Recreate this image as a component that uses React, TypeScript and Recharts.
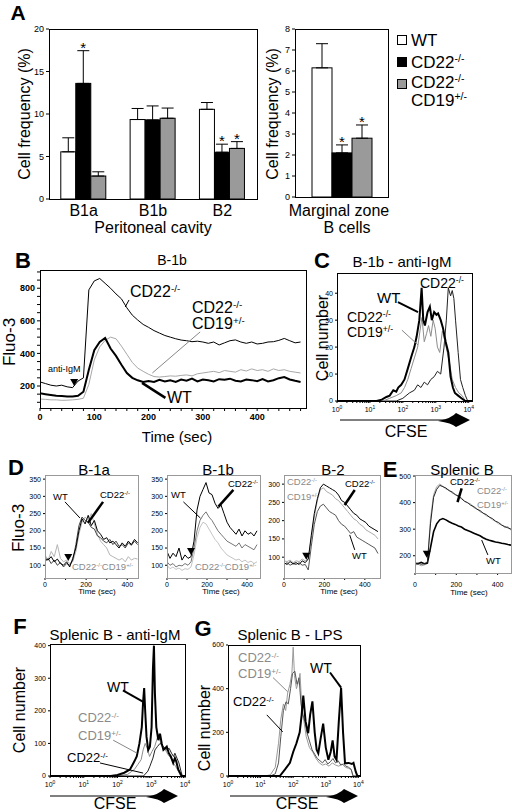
import React from 'react';
import { BarChart, Bar, XAxis, YAxis, ErrorBar, LineChart, Line, ReferenceLine, ReferenceDot } from 'recharts';

const FONT = '"Liberation Sans", Arial, Helvetica, sans-serif';
const GREY_BAR = '#9a9a9a';
const GREY_LINE = '#a8a8a8';
const GREY_TXT = '#8a8a8a';

// ---------- Panel A ----------
const periCats = ['B1a', 'B1b', 'B2'];
const wtFreq = [5.55, 9.35, 10.55];
const wtErr = [1.65, 1.3, 0.8];
const koFreq = [13.6, 9.3, 5.5];
const koErr = [3.85, 1.65, 0.95];
const dkoFreq = [2.7, 9.5, 5.95];
const dkoErr = [0.5, 1.2, 0.8];
const koSig = [true, false, true];
const dkoSig = [false, false, true];

const mzCats = ['MZ'];
const mzWt = [6.15];
const mzWtErr = [1.15];
const mzKo = [2.1];
const mzKoErr = [0.38];
const mzDko = [2.8];
const mzDkoErr = [0.63];
const mzKoSig = [true];
const mzDkoSig = [true];

const periTicks = [0, 5, 10, 15, 20];
const mzTicks = [0, 1, 2, 3, 4, 5, 6, 7, 8];

// ---------- Panel B ----------
const bTime = [0, 10, 20, 30, 40, 50, 60, 70, 80, 90, 100, 110, 120, 130, 140, 150, 160, 170, 180, 190, 200, 210, 220, 230, 240, 250, 260, 270, 280, 290, 300, 310, 320, 330, 340, 350, 360, 370, 380, 390, 400, 410, 420, 430, 440, 450, 460, 470, 480];
const bKo = [225, 215, 205, 200, 205, 195, 190, 230, 250, 790, 845, 860, 830, 800, 765, 735, 680, 635, 605, 578, 560, 540, 525, 510, 500, 490, 482, 478, 472, 475, 470, 462, 470, 452, 465, 478, 483, 470, 462, 470, 458, 462, 470, 472, 480, 492, 478, 465, 470];
const bWt = [155, 150, 145, 140, 138, 135, 135, 140, 165, 300, 420, 470, 495, 430, 385, 330, 280, 250, 235, 225, 230, 225, 238, 228, 235, 225, 240, 232, 245, 228, 240, 235, 228, 242, 238, 245, 232, 228, 240, 236, 230, 242, 228, 235, 248, 255, 240, 232, 225];
const bDko = [120, 118, 115, 115, 112, 113, 115, 118, 125, 210, 360, 440, 480, 500, 490, 445, 395, 345, 310, 290, 272, 258, 255, 258, 262, 260, 265, 268, 262, 275, 280, 285, 290, 282, 295, 290, 285, 300, 292, 305, 295, 300, 290, 305, 295, 300, 290, 285, 280];
const bXTicks = [0, 20, 40, 60, 80, 100, 120, 140, 160, 180, 200, 220, 240, 260, 280, 300, 320, 340, 360, 380, 400, 420, 440, 460, 480];
const bXMajor = [0, 100, 200, 300, 400];
const bYTicks = [100, 150, 200, 250, 300, 350, 400, 450, 500, 550, 600, 650, 700, 750, 800, 850, 900];
const bYMajor = [200, 400, 600, 800];
const bStim = [63, 200];

// ---------- Panel C ----------
const cWtX = [0, 1.2, 1.36, 1.5, 1.6, 1.71, 1.8, 1.86, 1.95, 2.05, 2.15, 2.27, 2.35, 2.42, 2.5, 2.57, 2.62, 2.67, 2.75, 2.82, 2.88, 2.95, 3.02, 3.07, 3.15, 3.22, 3.3, 3.38, 3.45, 3.52, 3.58, 3.68, 3.78, 3.9, 4.1];
const cWtY = [0, 0, 0.5, 1.5, 2, 4, 3.5, 5, 6, 8, 12, 17, 20, 24, 30, 42, 30, 28, 33, 35, 30, 33, 32, 32.5, 30, 27, 22, 18, 9, 5, 3, 2, 1, 0, 0];
const cDkoX = [0, 1.4, 1.6, 1.8, 1.95, 2.05, 2.15, 2.25, 2.35, 2.45, 2.52, 2.58, 2.65, 2.72, 2.78, 2.85, 2.92, 2.98, 3.05, 3.12, 3.2, 3.28, 3.35, 3.42, 3.5, 3.6, 3.7, 3.8, 3.9, 4.1];
const cDkoY = [0, 0, 1, 2, 3, 5, 8, 12, 16, 20, 26, 31, 22, 25, 28, 24, 30, 27, 20, 18, 26, 22, 18, 14, 8, 5, 3, 2, 0, 0];
const cKoX = [0, 1.8, 2.0, 2.2, 2.35, 2.45, 2.55, 2.65, 2.75, 2.85, 2.95, 3.05, 3.15, 3.25, 3.32, 3.38, 3.45, 3.5, 3.55, 3.6, 3.68, 3.75, 3.82, 3.9, 3.97, 4.1];
const cKoY = [0, 0, 1, 3, 4, 6, 5, 7, 6, 8, 9, 11, 10, 20, 30, 42, 39, 41, 38, 30, 18, 8, 5, 2, 0, 0];
const cYTicks = [0, 10, 20, 30, 40];

// ---------- Panels D / E ----------
const dTime = [0, 15, 30, 45, 60, 75, 90, 105, 120, 135, 150, 165, 180, 195, 210, 225, 240, 255, 270, 285, 300, 315, 330, 345, 360, 375, 390, 405, 420, 435, 450];
const d1Ko = [120, 115, 125, 110, 118, 105, 100, 110, 95, 120, 150, 200, 235, 220, 245, 215, 230, 200, 190, 175, 180, 165, 170, 160, 150, 165, 155, 170, 160, 175, 165];
const d1Wt = [110, 120, 105, 115, 100, 108, 95, 105, 100, 115, 160, 215, 240, 230, 225, 210, 205, 185, 180, 170, 165, 175, 160, 170, 155, 160, 150, 165, 158, 170, 160];
const d1Dko = [130, 115, 140, 125, 160, 120, 110, 115, 105, 110, 140, 190, 225, 240, 230, 250, 220, 190, 170, 160, 150, 130, 125, 120, 115, 120, 110, 125, 115, 120, 118];
const d2Ko = [140, 120, 135, 125, 150, 115, 130, 120, 125, 170, 260, 300, 320, 340, 310, 305, 280, 265, 275, 250, 225, 210, 200, 190, 205, 185, 200, 190, 195, 185, 200];
const d2Wt = [110, 100, 105, 95, 100, 98, 105, 100, 110, 150, 200, 230, 245, 255, 240, 230, 215, 200, 190, 180, 170, 165, 160, 155, 165, 150, 160, 155, 150, 145, 160];
const d2Dko = [100, 90, 95, 88, 92, 85, 90, 88, 95, 130, 180, 210, 225, 220, 205, 190, 175, 165, 150, 140, 130, 125, 120, 115, 118, 110, 115, 108, 112, 105, 110];
const d3Time = [0, 15, 30, 45, 60, 75, 90, 105, 120, 135, 150, 165, 180, 195, 210, 225, 240, 255, 270, 285, 300, 315, 330, 345, 360, 375, 390, 405, 420, 435, 450, 465];
const d3Ko = [85, 80, 88, 82, 85, 80, 90, 85, 95, 160, 220, 260, 290, 300, 295, 290, 285, 280, 270, 255, 250, 240, 230, 220, 215, 205, 200, 195, 185, 180, 175, 170];
const d3Wt = [80, 85, 78, 82, 80, 85, 78, 80, 65, 130, 190, 225, 240, 245, 235, 225, 220, 215, 200, 190, 185, 175, 165, 170, 155, 150, 145, 140, 135, 130, 125, 110];
const d3Dko = [90, 88, 92, 85, 90, 88, 95, 90, 95, 150, 210, 255, 285, 290, 280, 275, 270, 260, 255, 245, 235, 225, 215, 205, 200, 190, 185, 175, 170, 165, 160, 150];
const eKo = [170, 172, 168, 170, 175, 320, 420, 450, 465, 460, 455, 445, 440, 430, 425, 415, 405, 400, 390, 385, 375, 370, 360, 355, 345, 340, 330, 325, 315, 310, 305, 300];
const eDko = [165, 168, 162, 165, 170, 340, 430, 460, 470, 462, 450, 448, 435, 432, 420, 418, 405, 398, 395, 380, 378, 365, 362, 350, 348, 335, 330, 320, 318, 305, 310, 295];
const eWt = [172, 170, 175, 170, 172, 230, 290, 320, 335, 340, 335, 328, 322, 318, 312, 308, 300, 295, 290, 285, 280, 275, 268, 262, 258, 255, 252, 250, 247, 245, 242, 240];
const dXTicks = [0, 100, 200, 300, 400];
const dXMajor = [0, 200, 400];
const d12YTicks = [100, 150, 200, 250, 300, 350];
const d3YTicks = [100, 150, 200, 250, 300];
const eYTicks = [200, 300, 400, 500];

// ---------- Panel F ----------
const fWtX = [0, 1.8, 2.0, 2.2, 2.37, 2.5, 2.57, 2.65, 2.72, 2.76, 2.79, 2.82, 2.86, 2.91, 2.96, 3.01, 3.05, 3.08, 3.11, 3.15, 3.21, 3.26, 3.31, 3.36, 3.41, 3.46, 3.52, 3.58, 3.65, 3.7, 3.74, 3.8, 3.86, 3.9, 4.0];
const fWtY = [0, 0, 3, 10, 20, 45, 60, 100, 150, 230, 270, 200, 120, 80, 90, 150, 330, 400, 250, 150, 110, 130, 100, 80, 85, 90, 70, 60, 40, 55, 45, 20, 8, 0, 0];
const fDkoX = [0, 2.0, 2.3, 2.5, 2.6, 2.7, 2.76, 2.82, 2.88, 2.95, 3.02, 3.1, 3.16, 3.22, 3.28, 3.35, 3.42, 3.5, 3.58, 3.65, 3.72, 3.8, 3.87, 4.0];
const fDkoY = [0, 0, 5, 20, 35, 50, 80, 100, 85, 60, 75, 90, 110, 130, 100, 85, 80, 65, 55, 40, 30, 15, 0, 0];
const fKoX = [0, 2.5, 2.77, 2.9, 2.96, 3.05, 3.11, 3.18, 3.26, 3.32, 3.4, 3.46, 3.53, 3.6, 3.66, 3.7, 3.76, 3.82, 3.88, 3.92, 4.0];
const fKoY = [0, 0, 0, 15, 30, 55, 80, 90, 100, 95, 85, 80, 85, 70, 60, 70, 55, 40, 15, 0, 0];
const fYTicks = [0, 100, 200, 300, 400];

// ---------- Panel G ----------
const gWtX = [0, 1.5, 1.59, 1.75, 1.9, 2.0, 2.1, 2.2, 2.26, 2.31, 2.38, 2.46, 2.52, 2.59, 2.66, 2.72, 2.77, 2.84, 2.92, 3.0, 3.08, 3.15, 3.21, 3.27, 3.33, 3.4, 3.47, 3.53, 3.59, 3.7, 3.8, 3.85, 3.92, 3.97, 4.05];
const gWtY = [0, 0, 0, 30, 60, 110, 150, 200, 280, 368, 250, 196, 280, 342, 200, 120, 104, 170, 240, 130, 74, 110, 163, 90, 74, 250, 404, 200, 58, 60, 55, 60, 20, 0, 0];
const gDkoX = [0, 1.1, 1.3, 1.45, 1.55, 1.62, 1.7, 1.77, 1.83, 1.9, 1.96, 2.0, 2.04, 2.1, 2.16, 2.21, 2.27, 2.33, 2.4, 2.5, 2.6, 2.7, 2.8, 2.9, 3.0, 3.1, 3.2, 3.3, 3.4, 3.5, 3.6, 3.7, 3.78, 3.83, 3.9, 4.05];
const gDkoY = [0, 0, 5, 40, 150, 260, 330, 300, 380, 420, 470, 590, 460, 400, 430, 470, 300, 250, 180, 130, 110, 80, 60, 50, 55, 45, 60, 50, 45, 55, 40, 35, 30, 0, 0, 0];
const gKoX = [0, 1.3, 1.45, 1.55, 1.62, 1.7, 1.78, 1.85, 1.92, 1.98, 2.05, 2.12, 2.18, 2.24, 2.3, 2.36, 2.42, 2.5, 2.58, 2.66, 2.74, 2.82, 2.9, 2.98, 3.06, 3.14, 3.22, 3.3, 3.38, 3.46, 3.54, 3.62, 3.7, 3.78, 3.84, 4.05];
const gKoY = [0, 0, 10, 60, 180, 300, 340, 330, 400, 470, 480, 420, 450, 330, 280, 250, 200, 160, 120, 100, 80, 70, 60, 75, 55, 65, 80, 60, 70, 50, 55, 45, 40, 30, 0, 0];
const gYTicks = [0, 200, 400, 600];

const logMajor = [0, 1, 2, 3, 4];
const logTicks = [0, 1, 2, 3].flatMap((d) => [d, ...[2, 3, 4, 5, 6, 7, 8, 9].map((m) => d + Math.log10(m))]).concat([4]);

// ---------- tables built from arrays ----------
const periData = periCats.map((c, i) => ({
  cat: c,
  wt: wtFreq[i], wtE: [0, wtErr[i]], wtS: false,
  ko: koFreq[i], koE: [0, koErr[i]], koS: koSig[i],
  dko: dkoFreq[i], dkoE: [0, dkoErr[i]], dkoS: dkoSig[i],
}));
const mzData = mzCats.map((c, i) => ({
  cat: c,
  wt: mzWt[i], wtE: [0, mzWtErr[i]], wtS: false,
  ko: mzKo[i], koE: [0, mzKoErr[i]], koS: mzKoSig[i],
  dko: mzDko[i], dkoE: [0, mzDkoErr[i]], dkoS: mzDkoSig[i],
}));
const bData = bTime.map((t, i) => ({ t, ko: bKo[i], wt: bWt[i], dko: bDko[i] }));
const d1Data = dTime.map((t, i) => ({ t, ko: d1Ko[i], wt: d1Wt[i], dko: d1Dko[i] }));
const d2Data = dTime.map((t, i) => ({ t, ko: d2Ko[i], wt: d2Wt[i], dko: d2Dko[i] }));
const d3Data = d3Time.map((t, i) => ({ t, ko: d3Ko[i], wt: d3Wt[i], dko: d3Dko[i] }));
const eData = d3Time.map((t, i) => ({ t, ko: eKo[i], wt: eWt[i], dko: eDko[i] }));
const zipXY = (xs: number[], ys: number[]) => xs.map((x, i) => ({ x, y: ys[i] }));

// ---------- helpers ----------
function Txt({ x, y, s = 16, c = '#000', a = 'start', b = false, r = false, children }: any) {
  const tx = a === 'start' ? '0' : a === 'middle' ? '-50%' : '-100%';
  return (
    <div
      style={{
        position: 'absolute', left: x, top: y,
        transform: r ? 'translate(-50%,-50%) rotate(-90deg)' : `translate(${tx},-50%)`,
        fontSize: s, color: c, fontWeight: b ? 'bold' : 'normal', whiteSpace: 'nowrap',
        lineHeight: 1, fontFamily: FONT,
      }}
    >
      {children}
    </div>
  );
}
const Sup = ({ children }: any) => (
  <span style={{ fontSize: '0.62em', position: 'relative', top: '-0.55em' }}>{children}</span>
);
const KO = () => (<>CD22<Sup>-/-</Sup></>);
const HET = () => (<>CD19<Sup>+/-</Sup></>);

const Frame = ({ l, t, w, h, c = '#000' }: any) => (
  <div style={{ position: 'absolute', left: l, top: t, width: w, height: h, border: `1px solid ${c}`, boxSizing: 'border-box', pointerEvents: 'none' }} />
);

const near = (arr: number[], v: number) => arr.some((a) => Math.abs(a - v) < 1e-6);
const xTick = (majors: number[], fs: number, bold = false) => (p: any) => {
  const v = p.payload.value;
  if (!near(majors, v)) return <g />;
  return (
    <text x={p.x} y={p.y} dy={fs * 0.75} textAnchor="middle" fontSize={fs} fontFamily={FONT} fontWeight={bold ? 'bold' : 'normal'} fill="#000">{v}</text>
  );
};
const yTick = (majors: number[], fs: number, bold = false) => (p: any) => {
  const v = p.payload.value;
  if (!near(majors, v)) return <g />;
  return (
    <text x={p.x} y={p.y} dy={fs * 0.35} textAnchor="end" fontSize={fs} fontFamily={FONT} fontWeight={bold ? 'bold' : 'normal'} fill="#000">{v}</text>
  );
};
const logTick = (fs: number) => (p: any) => {
  const v = p.payload.value;
  if (!near(logMajor, v)) return <g />;
  return (
    <text x={p.x} y={p.y} dy={fs * 0.85} textAnchor="middle" fontSize={fs} fontFamily={FONT} fill="#000">
      10<tspan dy={-fs * 0.45} fontSize={fs * 0.7}>{Math.round(v)}</tspan>
    </text>
  );
};

const barShape = (key: string, errKey: string, sigKey: string) => (p: any) => {
  const { x, y, width, height, fill, payload } = p;
  const val = payload[key];
  const err = payload[errKey][1];
  const top = y - (err * height) / val;
  return (
    <g>
      <rect x={x} y={y} width={width} height={height} fill={fill} stroke="#000" strokeWidth={1} />
      {payload[sigKey] ? (
        <text x={x + width / 2} y={top + 2} textAnchor="middle" fontSize={15} fontFamily={FONT} fill="#000">*</text>
      ) : null}
    </g>
  );
};

const tri = (p: any) => (
  <path d={`M${p.cx - 4},${p.cy - 7} L${p.cx + 4},${p.cy - 7} L${p.cx},${p.cy} Z`} fill="#000" />
);

const seg = (x1: number, y1: number, x2: number, y2: number, stroke: string, w: number, key: string) => (
  <ReferenceLine key={key} segment={[{ x: x1, y: y1 }, { x: x2, y: y2 }]} stroke={stroke} strokeWidth={w} ifOverflow="visible" />
);

// ---------- panels ----------
function PanelA() {
  return (
    <>
      <div style={{ position: 'absolute', left: 0, top: 0 }}>
        <BarChart width={275} height={230} data={periData} margin={{ top: 29, right: 18, bottom: 0, left: 29 }} barCategoryGap="17%" barGap={0}>
          <XAxis dataKey="cat" tickLine={false} axisLine={false} height={31} interval={0} tickMargin={0} tick={{ fontSize: 16, fill: '#000', fontFamily: FONT }} />
          <YAxis width={20} domain={[0, 20]} ticks={periTicks} interval={0} tickSize={3} axisLine={false} tickLine={{ stroke: '#000' }} tick={{ fontSize: 9, fill: '#000', fontFamily: FONT }} />
          <Bar dataKey="wt" fill="#fff" isAnimationActive={false} shape={barShape('wt', 'wtE', 'wtS')}>
            <ErrorBar dataKey="wtE" direction="y" width={6} stroke="#000" strokeWidth={1} />
          </Bar>
          <Bar dataKey="ko" fill="#000" isAnimationActive={false} shape={barShape('ko', 'koE', 'koS')}>
            <ErrorBar dataKey="koE" direction="y" width={6} stroke="#000" strokeWidth={1} />
          </Bar>
          <Bar dataKey="dko" fill={GREY_BAR} isAnimationActive={false} shape={barShape('dko', 'dkoE', 'dkoS')}>
            <ErrorBar dataKey="dkoE" direction="y" width={6} stroke="#000" strokeWidth={1} />
          </Bar>
        </BarChart>
      </div>
      <Frame l={49} t={29} w={209} h={171} />
      <div style={{ position: 'absolute', left: 262, top: 0 }}>
        <BarChart width={128} height={206} data={mzData} margin={{ top: 29, right: 2, bottom: 9, left: 15 }} barSize={20} barGap={0}>
          <XAxis dataKey="cat" hide />
          <YAxis width={18} domain={[0, 8]} ticks={mzTicks} interval={0} tickSize={3} axisLine={false} tickLine={{ stroke: '#000' }} tick={{ fontSize: 9, fill: '#000', fontFamily: FONT }} />
          <Bar dataKey="wt" fill="#fff" isAnimationActive={false} shape={barShape('wt', 'wtE', 'wtS')}>
            <ErrorBar dataKey="wtE" direction="y" width={6} stroke="#000" strokeWidth={1} />
          </Bar>
          <Bar dataKey="ko" fill="#000" isAnimationActive={false} shape={barShape('ko', 'koE', 'koS')}>
            <ErrorBar dataKey="koE" direction="y" width={6} stroke="#000" strokeWidth={1} />
          </Bar>
          <Bar dataKey="dko" fill={GREY_BAR} isAnimationActive={false} shape={barShape('dko', 'dkoE', 'dkoS')}>
            <ErrorBar dataKey="dkoE" direction="y" width={6} stroke="#000" strokeWidth={1} />
          </Bar>
        </BarChart>
      </div>
      <Frame l={295} t={29} w={94} h={169} />
      <Txt x={18} y={12} s={21} b a="middle">A</Txt>
      <Txt x={25} y={114} s={16} r>Cell frequency (%)</Txt>
      <Txt x={273} y={114} s={16} r>Cell frequency (%)</Txt>
      <Txt x={153} y={228} s={16} a="middle">Peritoneal cavity</Txt>
      <Txt x={339} y={211} s={16} a="middle">Marginal zone</Txt>
      <Txt x={347} y={228} s={16} a="middle">B cells</Txt>
      {/* legend */}
      <div style={{ position: 'absolute', left: 397, top: 35, width: 8, height: 8, border: '1px solid #000', background: '#fff' }} />
      <div style={{ position: 'absolute', left: 397, top: 57, width: 8, height: 8, border: '1px solid #000', background: '#000' }} />
      <div style={{ position: 'absolute', left: 397, top: 79, width: 8, height: 8, border: '1px solid #000', background: GREY_BAR }} />
      <Txt x={411} y={40} s={17}>WT</Txt>
      <Txt x={411} y={62} s={17}><KO /></Txt>
      <Txt x={411} y={82} s={17}><KO /></Txt>
      <Txt x={411} y={100} s={17}><HET /></Txt>
    </>
  );
}

function PanelB() {
  return (
    <>
      <div style={{ position: 'absolute', left: 0, top: 260 }}>
        <LineChart width={320} height={175} data={bData} margin={{ top: 10, right: 14, bottom: 7, left: 0 }}>
          <XAxis dataKey="t" type="number" domain={[0, 490]} ticks={bXTicks} interval={0} tick={xTick(bXMajor, 9, true)} tickSize={3} tickLine={{ stroke: '#000' }} axisLine={false} height={20} allowDataOverflow />
          <YAxis type="number" domain={[65, 912]} ticks={bYTicks} interval={0} tick={yTick(bYMajor, 9, true)} tickSize={3} tickLine={{ stroke: '#000' }} axisLine={false} width={40} allowDataOverflow />
          <Line dataKey="dko" stroke={GREY_LINE} strokeWidth={1} dot={false} isAnimationActive={false} />
          <Line dataKey="wt" stroke="#000" strokeWidth={2} dot={false} isAnimationActive={false} />
          <Line dataKey="ko" stroke="#000" strokeWidth={1} dot={false} isAnimationActive={false} />
          {seg(157, 685, 164, 728, '#000', 1, 'l1')}
          {seg(207, 280, 295, 532, '#888', 1, 'l2')}
          {seg(188, 219, 231, 127, '#000', 2.5, 'l3')}
          <ReferenceDot x={bStim[0]} y={bStim[1]} r={0} shape={tri} ifOverflow="visible" />
        </LineChart>
      </div>
      <Frame l={40} t={270} w={267} h={139} />
      <Txt x={23} y={261} s={22} b a="middle">B</Txt>
      <Txt x={172} y={260} s={14} a="middle">B-1b</Txt>
      <Txt x={9} y={342} s={17} r>Fluo-3</Txt>
      <Txt x={177} y={436} s={15} a="middle">Time (sec)</Txt>
      <Txt x={130} y={292} s={16}><KO /></Txt>
      <Txt x={192} y={308} s={16}><KO /></Txt>
      <Txt x={192} y={324} s={16}><HET /></Txt>
      <Txt x={167} y={398} s={16}>WT</Txt>
      <Txt x={48} y={369} s={9}>anti-IgM</Txt>
    </>
  );
}

function Hist({ left, top, width, height, margin, yw, xMax, yMax, yTicks, series, children }: any) {
  return (
    <div style={{ position: 'absolute', left, top }}>
      <LineChart width={width} height={height} margin={margin}>
        <XAxis dataKey="x" type="number" domain={[0, xMax]} ticks={logTicks} interval={0} tick={logTick(7)} tickSize={2} tickMargin={3} tickLine={{ stroke: '#000' }} axisLine={false} height={14} allowDataOverflow />
        <YAxis type="number" domain={[0, yMax]} ticks={yTicks} interval={0} tick={yTick(yTicks, 7)} tickSize={2} tickLine={{ stroke: '#000' }} axisLine={false} width={yw} allowDataOverflow />
        {series.map((s: any) => (
          <Line key={s.k} data={s.d} dataKey="y" stroke={s.c} strokeWidth={s.w} dot={false} isAnimationActive={false} />
        ))}
        {children}
      </LineChart>
    </div>
  );
}

function PanelC() {
  return (
    <>
      <Hist left={300} top={263} width={212} height={152} margin={{ top: 10, right: 40, bottom: 0, left: 0 }} yw={37} xMax={4.1} yMax={47.5} yTicks={cYTicks}
        series={[
          { k: 'ko', d: zipXY(cKoX, cKoY), c: '#222', w: 1 },
          { k: 'dko', d: zipXY(cDkoX, cDkoY), c: '#8c8c8c', w: 1 },
          { k: 'wt', d: zipXY(cWtX, cWtY), c: '#000', w: 2 },
        ]}>
        {seg(1.85, 36.7, 2.46, 33, '#000', 2, 'c1')}
        {seg(1.97, 26.3, 2.46, 20.8, '#888', 1, 'c2')}
      </Hist>
      <Frame l={337} t={273} w={136} h={129} />
      <Txt x={322} y={261} s={22} b a="middle">C</Txt>
      <Txt x={402} y={261} s={15} a="middle">B-1b - anti-IgM</Txt>
      <Txt x={323} y={338} s={16} r>Cell number</Txt>
      <Txt x={377} y={297} s={15}>WT</Txt>
      <Txt x={420} y={283} s={14}><KO /></Txt>
      <Txt x={347} y={317} s={14}><KO /></Txt>
      <Txt x={347} y={332} s={14}><HET /></Txt>
      <Txt x={406} y={432} s={16} a="middle">CFSE</Txt>
    </>
  );
}

function Fluo({ left, width, height, mr, data, yDomain, yTicks, xMax, colors, stim, tm = 2, xh = 10, children }: any) {
  return (
    <div style={{ position: 'absolute', left, top: 470 }}>
      <LineChart width={width} height={height} data={data} margin={{ top: 5, right: mr, bottom: 0, left: 10 }}>
        <XAxis dataKey="t" type="number" domain={[0, xMax]} ticks={dXTicks} interval={0} tick={xTick(dXMajor, 7)} tickSize={2} tickMargin={tm} tickLine={{ stroke: '#000' }} axisLine={false} height={xh} allowDataOverflow />
        <YAxis type="number" domain={yDomain} ticks={yTicks} interval={0} tick={yTick(yTicks, 7)} tickSize={2} tickLine={{ stroke: '#000' }} axisLine={false} width={20} allowDataOverflow />
        <Line dataKey="dko" stroke={colors[2]} strokeWidth={1} dot={false} isAnimationActive={false} />
        <Line dataKey="wt" stroke={colors[0]} strokeWidth={colors[3]} dot={false} isAnimationActive={false} />
        <Line dataKey="ko" stroke={colors[1]} strokeWidth={1} dot={false} isAnimationActive={false} />
        {children}
        <ReferenceDot x={stim[0]} y={stim[1]} r={0} shape={tri} ifOverflow="visible" />
      </LineChart>
    </div>
  );
}

function PanelDE() {
  const fs = 9.5;
  return (
    <>
      <Fluo left={15} width={135} height={118} mr={12} data={d1Data} yDomain={[63, 362]} yTicks={d12YTicks} xMax={452} colors={['#444', '#000', '#b5b5b5', 1]} stim={[113, 112]}>
        {seg(97, 284, 170, 237, '#000', 1, 'd1a')}
        {seg(282, 284, 209, 223, '#000', 2.5, 'd1b')}
      </Fluo>
      <Fluo left={137} width={135} height={118} mr={12} data={d2Data} yDomain={[63, 362]} yTicks={d12YTicks} xMax={465} colors={['#777', '#000', '#c4c4c4', 1]} stim={[120, 130]}>
        {seg(82, 284, 167, 237, '#000', 1, 'd2a')}
        {seg(332, 319, 257, 270, '#000', 2.5, 'd2b')}
      </Fluo>
      <Fluo left={254} width={135} height={118} mr={9} data={d3Data} yDomain={[43, 325]} yTicks={d3YTicks} xMax={475} colors={['#555', '#000', '#aaa', 1]} stim={[110, 93]}>
        {seg(350, 284, 300, 243, '#000', 2.5, 'd3a')}
        {seg(350, 120, 325, 161, '#000', 1, 'd3b')}
      </Fluo>
      <Fluo left={385} width={135} height={120} mr={9} data={eData} yDomain={[135, 504]} yTicks={eYTicks} xMax={465} colors={['#000', '#222', '#aaa', 1.6]} stim={[57, 192]} tm={7} xh={17}>
        {seg(226, 454, 206, 402, '#000', 2.5, 'e1')}
        {seg(353, 203, 323, 259, '#000', 1, 'e2')}
      </Fluo>
      <Frame l={45} t={475} w={94} h={104} c="#999" />
      <Frame l={167} t={475} w={94} h={104} c="#999" />
      <Frame l={284} t={475} w={97} h={104} c="#999" />
      <Frame l={415} t={475} w={97} h={99} c="#999" />
      <Txt x={16} y={468} s={22} b a="middle">D</Txt>
      <Txt x={390} y={470} s={22} b a="middle">E</Txt>
      <Txt x={94} y={469} s={15} a="middle">B-1a</Txt>
      <Txt x={218} y={469} s={15} a="middle">B-1b</Txt>
      <Txt x={333} y={469} s={15} a="middle">B-2</Txt>
      <Txt x={462} y={469} s={15} a="middle">Splenic B</Txt>
      <Txt x={18} y={528} s={17} r>Fluo-3</Txt>
      <Txt x={97} y={592} s={8} a="middle">Time (sec)</Txt>
      <Txt x={221} y={592} s={8} a="middle">Time (sec)</Txt>
      <Txt x={339} y={592} s={8} a="middle">Time (sec)</Txt>
      <Txt x={469} y={593} s={8} a="middle">Time (sec)</Txt>
      <Txt x={53} y={497} s={fs}>WT</Txt>
      <Txt x={100} y={495} s={fs}><KO /></Txt>
      <Txt x={72} y={567} s={fs} c={GREY_TXT}><KO /><HET /></Txt>
      <Txt x={171} y={495} s={fs}>WT</Txt>
      <Txt x={228} y={484} s={fs}><KO /></Txt>
      <Txt x={195} y={567} s={fs} c={GREY_TXT}><KO /><HET /></Txt>
      <Txt x={287} y={482} s={fs} c={GREY_TXT}><KO /></Txt>
      <Txt x={287} y={497} s={fs} c={GREY_TXT}><HET /></Txt>
      <Txt x={345} y={484} s={fs}><KO /></Txt>
      <Txt x={352} y={556} s={fs}>WT</Txt>
      <Txt x={450} y={482} s={fs}><KO /></Txt>
      <Txt x={477} y={491} s={fs} c={GREY_TXT}><KO /></Txt>
      <Txt x={477} y={505} s={fs} c={GREY_TXT}><HET /></Txt>
      <Txt x={486} y={561} s={fs}>WT</Txt>
    </>
  );
}

function PanelFG() {
  return (
    <>
      <Hist left={0} top={635} width={200} height={155} margin={{ top: 10, right: 15, bottom: 0, left: 20 }} yw={30} xMax={4} yMax={402} yTicks={fYTicks}
        series={[
          { k: 'dko', d: zipXY(fDkoX, fDkoY), c: '#8c8c8c', w: 1 },
          { k: 'ko', d: zipXY(fKoX, fKoY), c: '#222', w: 1 },
          { k: 'wt', d: zipXY(fWtX, fWtY), c: '#000', w: 2 },
        ]}>
        {seg(2.16, 263, 2.79, 226, '#000', 2, 'f1')}
        {seg(1.87, 110, 2.58, 70, '#888', 1, 'f2')}
        {seg(1.48, 40, 2.76, 9, '#000', 1, 'f3')}
      </Hist>
      <Hist left={190} top={635} width={190} height={155} margin={{ top: 10, right: 20, bottom: 0, left: 10 }} yw={28} xMax={4.05} yMax={600} yTicks={gYTicks}
        series={[
          { k: 'dko', d: zipXY(gDkoX, gDkoY), c: '#9a9a9a', w: 1 },
          { k: 'ko', d: zipXY(gKoX, gKoY), c: '#555', w: 1 },
          { k: 'wt', d: zipXY(gWtX, gWtY), c: '#000', w: 2 },
        ]}>
        {seg(1.38, 451, 1.83, 386, '#888', 1, 'g1')}
        {seg(1.19, 280, 1.68, 202, '#000', 1, 'g2')}
        {seg(3.13, 474, 3.47, 405, '#000', 2, 'g3')}
      </Hist>
      <Frame l={50} t={644} w={136} h={133} />
      <Frame l={228} t={645} w={133} h={132} />
      <Txt x={20} y={627} s={22} b a="middle">F</Txt>
      <Txt x={203} y={629} s={22} b a="middle">G</Txt>
      <Txt x={115} y={634} s={15} a="middle">Splenic B - anti-IgM</Txt>
      <Txt x={290} y={634} s={15} a="middle">Splenic B - LPS</Txt>
      <Txt x={20} y={710} s={16} r>Cell number</Txt>
      <Txt x={205} y={728} s={16} r>Cell number</Txt>
      <Txt x={115} y={804} s={16} a="middle">CFSE</Txt>
      <Txt x={297} y={804} s={16} a="middle">CFSE</Txt>
      <Txt x={107} y={687} s={14}>WT</Txt>
      <Txt x={78} y={718} s={13} c={GREY_TXT}><KO /></Txt>
      <Txt x={78} y={736} s={13} c={GREY_TXT}><HET /></Txt>
      <Txt x={67} y={758} s={13}><KO /></Txt>
      <Txt x={238} y={658} s={13} c={GREY_TXT}><KO /></Txt>
      <Txt x={238} y={674} s={13} c={GREY_TXT}><HET /></Txt>
      <Txt x={233} y={702} s={13}><KO /></Txt>
      <Txt x={310} y={668} s={14}>WT</Txt>
    </>
  );
}

function Arrows() {
  const arrow = (x1: number, x2: number, y: number) => (
    <g key={`${x1}-${y}`}>
      <line x1={x1} x2={x2 - 20} y1={y} y2={y} stroke="#000" strokeWidth={1} />
      <path d={`M${x2 - 32},${y + 1} Q${x2 - 18},${y - 2} ${x2 - 14},${y - 7} L${x2},${y} L${x2 - 14},${y + 7} Q${x2 - 18},${y + 3} ${x2 - 32},${y + 1} Z`} fill="#000" />
    </g>
  );
  return (
    <svg width={512} height={812} style={{ position: 'absolute', left: 0, top: 0, pointerEvents: 'none' }}>
      {arrow(340, 470, 420)}
      {arrow(50, 178, 796)}
      {arrow(230, 358, 796)}
    </svg>
  );
}

export default function App() {
  return (
    <div style={{ position: 'absolute', left: 0, top: 0, width: 512, height: 812, background: '#fff', fontFamily: FONT, overflow: 'hidden' }}>
      <PanelA />
      <PanelB />
      <PanelC />
      <PanelDE />
      <PanelFG />
      <Arrows />
    </div>
  );
}
